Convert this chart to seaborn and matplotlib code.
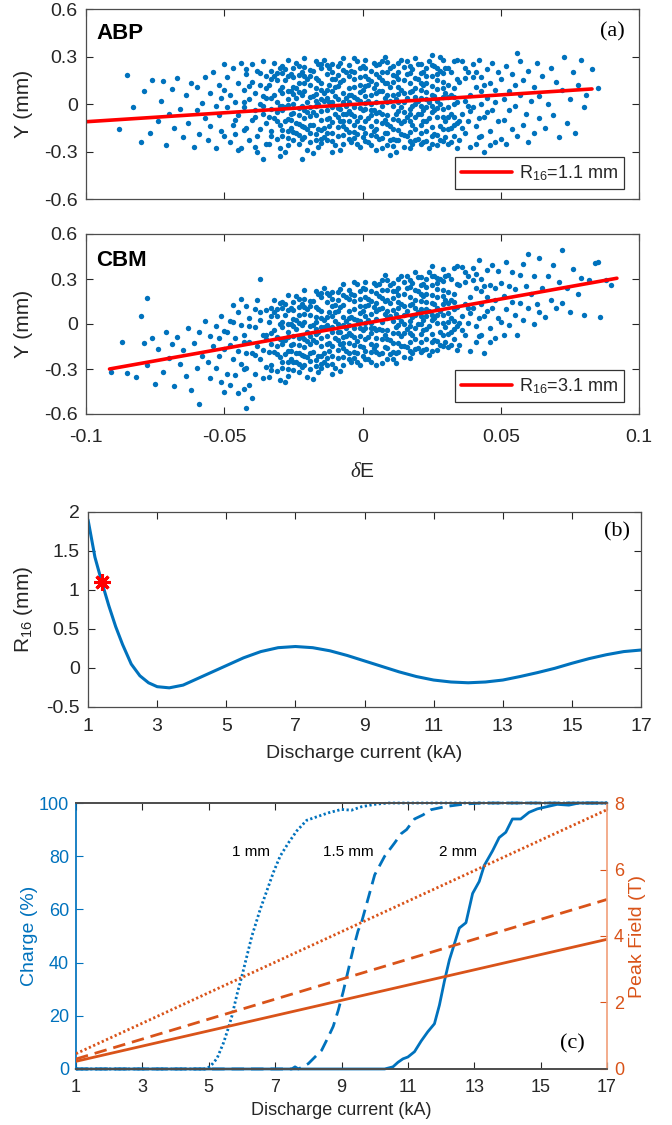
import numpy as np
import pandas as pd
import matplotlib
matplotlib.use("Agg")
import matplotlib.pyplot as plt
import seaborn as sns

sns.set_theme(style="ticks")
plt.rcParams.update({
    "font.family": ["Liberation Sans", "DejaVu Sans"],
    "axes.unicode_minus": False,
    "mathtext.fontset": "custom",
    "mathtext.rm": "Liberation Sans",
    "mathtext.it": "Liberation Serif:italic",
})

BLUE = "#0072BD"
ORANGE = "#D95319"
RED = "#FF0000"
DARK = "#262626"

# ---------------- (a) particle clouds: (dE x 1e3, Y in um) ----------------
abp_points = [
    (-88,-160),(-85,185),(-83,-20),(-80,-240),(-79,80),(-77,-180),(-76,150),(-74,-110),(-73,20),(-72,145),
    (-71,-260),(-70,-60),(-69,95),(-68,-150),(-67,165),(-66,-30),(-65,-210),(-64,60),(-63,-120),(-62,130),
    (-61,-270),(-60,-40),(-60,110),(-59,-190),(-58,5),(-57,170),(-57,-90),(-56,-230),(-55,70),(-55,-140),
    (-54,200),(-53,-10),(-53,-280),(-52,120),(-52,-70),(-51,-170),(-51,40),(-50,250),(-50,-200),(-50,90),
    (50,-220),(50,160),(51,30),(51,-100),(52,240),(52,-250),(53,80),(53,-40),(54,190),(54,-160),
    (55,-10),(55,120),(56,-200),(57,270),(57,60),(58,-130),(58,150),(59,-60),(60,210),(60,-240),
    (61,20),(62,110),(62,-180),(63,260),(64,-90),(64,50),(65,180),(66,-150),(67,0),(68,230),
    (69,-70),(70,140),(71,-210),(72,90),(73,300),(74,-120),(75,30),(76,200),(77,-180),(78,120),
    (79,280),(80,-20),(81,60),(83,220),(85,100),
    (-49,-20),(-49,170),(-48,-240),(-48,60),(-47,-130),(-47,230),(-46,10),(-46,-190),(-45,130),(-45,-70),
    (-44,260),(-44,-280),(-43,-20),(-43,90),(-42,-150),(-42,190),(-41,30),(-41,-230),(-40,140),(-40,-100),
    (-40,250),(-39,-40),(-39,70),(-38,-200),(-38,210),(-38,-300),(-37,0),(-37,120),(-37,-160),(-36,270),
    (-36,-60),(-36,50),(-35,-250),(-35,180),(-35,-120),(-35,100),(-36,-10),(-39,-270),(-42,220),(-46,-100),
    (35,-230),(35,140),(36,-60),(36,270),(37,20),(37,-180),(38,200),(38,-110),(39,60),(39,-270),
    (40,250),(40,-20),(41,-140),(41,110),(42,280),(42,-210),(43,0),(43,170),(44,-80),(44,-300),
    (45,220),(45,40),(46,-170),(46,130),(47,-40),(47,260),(48,-240),(48,90),(49,-110),(49,200),
    (36,-150),(38,-10),(40,170),(42,-90),(44,120),(46,-260),(48,10),(37,230),(41,-250),(45,-50),
    (-34,-250),(-34,120),(-33,-30),(-33,210),(-33,-170),(-32,60),(-32,-90),(-32,260),(-31,-220),(-31,10),
    (-31,150),(-30,-130),(-30,90),(-30,-280),(-34,-80),(-32,180),(-31,-50),(-33,40),(-30,230),(-30,-10),
    (-29,-200),(-29,70),(-29,240),(-28,-110),(-28,150),(-28,-20),(-27,280),(-27,-260),(-27,30),(-26,-150),
    (-26,190),(-26,-60),(-25,110),(-25,-230),(-25,0),(-29,-40),(-28,220),(-27,-170),(-26,80),(-25,170),
    (-28,-300),(-26,-100),
    (-24,-180),(-24,40),(-24,260),(-23,-70),(-23,130),(-23,-250),(-22,200),(-22,-10),(-22,-140),(-21,80),
    (-21,290),(-21,-210),(-20,-50),(-20,160),(-20,-290),(-24,-120),(-23,240),(-22,60),(-21,-90),(-20,10),
    (-24,100),(-22,-220),(-21,180),(-20,-160),
    (-19,-240),(-19,120),(-19,-20),(-18,210),(-18,-130),(-18,50),(-17,-70),(-17,270),(-17,-190),(-16,0),
    (-16,150),(-16,-270),(-15,90),(-15,-100),(-15,230),(-19,180),(-18,-50),(-17,100),(-16,-160),(-15,-220),
    (-18,-310),(-17,20),(-16,250),(-15,30),
    (-14,-150),(-14,70),(-14,280),(-13,-40),(-13,190),(-13,-230),(-12,120),(-12,-90),(-12,10),(-11,250),
    (-11,-180),(-11,-20),(-10,160),(-10,-260),(-10,50),(-14,-210),(-13,90),(-12,-140),(-11,200),(-10,-60),
    (-14,20),(-12,230),(-11,-300),(-10,110),
    (-9,-200),(-9,30),(-9,240),(-8,-110),(-8,140),(-8,-30),(-7,290),(-7,-250),(-7,70),(-6,-160),
    (-6,200),(-6,-60),(-5,100),(-5,-220),(-5,10),(-9,-80),(-8,260),(-7,-140),(-6,40),(-5,180),
    (-8,-290),(-7,150),(-6,-10),(-5,-110),
    (-4,-240),(-4,60),(-4,210),(-3,-130),(-3,110),(-3,-20),(-2,270),(-2,-190),(-2,30),(-1,-80),
    (-1,170),(-1,-270),(0,90),(0,-150),(0,240),(-4,-60),(-3,290),(-2,-110),(-1,20),(0,-40),
    (-3,160),(-2,-250),(-1,120),(0,-210),
    (1,-180),(1,50),(1,280),(2,-90),(2,160),(2,-240),(3,0),(3,210),(3,-140),(4,100),
    (4,-40),(4,260),(5,-200),(5,70),(5,-290),(1,-30),(2,120),(3,-70),(4,-170),(5,190),
    (1,230),(2,20),(3,-260),(5,-110),
    (6,-220),(6,80),(6,250),(7,-120),(7,150),(7,-10),(8,300),(8,-180),(8,40),(9,-70),
    (9,200),(9,-260),(10,110),(10,-140),(10,20),(6,-50),(7,270),(8,-100),(9,60),(10,-230),
    (6,170),(7,-280),(8,130),(10,230),
    (11,-160),(11,60),(11,240),(12,-60),(12,180),(12,-230),(13,110),(13,-100),(13,10),(14,280),
    (14,-190),(14,-20),(15,150),(15,-270),(15,70),(11,-220),(12,30),(13,260),(14,-120),(15,-50),
    (11,140),(12,-300),(13,200),(14,90),
    (16,-200),(16,40),(16,270),(17,-110),(17,130),(17,-30),(18,220),(18,-250),(18,80),(19,-160),
    (19,0),(19,290),(20,-60),(20,160),(20,-220),(16,-80),(17,240),(18,-130),(19,100),(20,20),
    (16,190),(17,-280),(18,-10),(20,250),
    (21,-130),(21,90),(21,250),(22,-40),(22,200),(22,-240),(23,130),(23,-170),(23,30),(24,270),
    (24,-90),(24,-280),(25,60),(25,-200),(25,180),(21,-10),(22,-110),(23,230),(24,10),(25,-50),
    (21,-250),(22,120),(23,-20),(25,310),
    (26,-190),(26,50),(26,240),(27,-80),(27,150),(27,-260),(28,0),(28,210),(28,-140),(29,100),
    (29,-30),(29,280),(30,-210),(30,70),(30,-110),(26,-40),(27,190),(28,-230),(29,-160),(30,230),
    (27,20),(29,140),
    (31,-250),(31,120),(31,-20),(32,200),(32,-150),(32,60),(33,-80),(33,270),(33,-200),(34,10),
    (34,160),(34,-280),(31,230),(32,-60),(33,100),(34,-120),(31,-160),(33,0),(32,-240),(34,280),
    (-36,-345),(-30,-330),(-22,-350),(10,-320),(28,300),(56,325),(-45,-290),
]

abp_core_extra = [
    (-29,-165),(-29,-15),(-29,105),(-29,195),(-27,-215),(-27,-95),(-27,85),(-27,175),(-27,-5),
    (-25,-175),(-25,-55),(-25,65),(-25,225),(-23,-195),(-23,-25),(-23,75),(-23,185),(-23,-125),
    (-21,-145),(-21,-35),(-21,135),(-21,235),(-19,-185),(-19,-75),(-19,45),(-19,215),(-19,-135),
    (-17,-225),(-17,-15),(-17,165),(-17,65),(-15,-165),(-15,-45),(-15,135),(-15,255),(-15,-245),
    (-13,-185),(-13,-95),(-13,35),(-13,245),(-11,-235),(-11,-115),(-11,85),(-11,155),(-11,15),
    (-9,-145),(-9,-25),(-9,115),(-9,185),(-7,-195),(-7,-65),(-7,15),(-7,215),(-7,-105),
    (-5,-175),(-5,-45),(-5,55),(-5,245),(-3,-215),(-3,-75),(-3,45),(-3,205),(-3,-175),
    (-1,-145),(-1,-25),(-1,75),(-1,225),(1,-235),(1,-105),(1,115),(1,175),(1,5),
    (3,-195),(3,-35),(3,55),(3,145),(5,-155),(5,-55),(5,125),(5,245),(5,15),
    (7,-215),(7,-65),(7,85),(7,205),(9,-185),(9,-125),(9,15),(9,135),(9,265),
    (11,-95),(11,-15),(11,185),(11,-265),(13,-225),(13,-45),(13,65),(13,155),(13,-165),
    (15,-195),(15,-105),(15,15),(15,235),(17,-175),(17,-65),(17,75),(17,195),(17,-235),
    (19,-225),(19,-85),(19,45),(19,165),(21,-185),(21,-65),(21,35),(21,195),(21,135),
    (23,-235),(23,-105),(23,75),(23,175),(25,-145),(25,-15),(25,115),(25,245),(25,-255),
    (27,-195),(27,-25),(27,95),(27,225),(29,-235),(29,-85),(29,45),(29,195),
    (-43,-165),(-41,115),(-39,-85),(-37,195),(-35,35),(-33,-205),(-31,-105),(-33,155),(31,-85),(33,45),
    (35,-105),(37,165),(39,-45),(41,205),(43,-205),(33,-135),(31,45),(-31,195),(-43,15),(43,85),
]

cbm_points = [
    (-91,-322),(-87,-120),(-85,-324),(-80,55),(-82,-354),(-79,-125),(-78,-272),(-76,-96),(-75,-403),(-74,-169),
    (-72,-323),(-71,-50),(-70,-227),(-69,-134),(-68,-411),(-67,-88),(-66,-265),(-65,-172),(-64,-348),(-63,-25),
    (-62,-442),(-61,-129),(-60,-296),(-59,-53),(-58,-210),(-59,-530),(-57,23),(-56,-254),(-55,-81),(-55,-361),
    (-54,-147),(-53,-294),(-53,-14),(-52,-211),(-52,-91),(-51,-388),(-51,52),(-50,-165),(-50,-45),(-50,-455),
    (-78,173),
    (50,275),(50,15),(51,188),(51,-72),(52,411),(52,101),(53,254),(53,-6),(54,347),(54,147),
    (55,61),(55,231),(56,-76),(57,327),(57,137),(58,400),(58,30),(59,253),(60,106),(60,466),
    (61,199),(62,2),(62,322),(63,135),(64,438),(64,78),(65,242),(66,45),(67,318),(68,161),
    (69,394),(70,107),(71,280),(72,493),(72,143),(74,239),(75,83),(76,366),(78,202),(79,305),
    (80,58),(82,294),(84,410),(85,414),(86,47),(88,293),(90,259),
    (-49,-52),(-49,-332),(-48,-139),(-48,-409),(-47,14),(-47,-236),(-46,-93),(-46,-343),(-45,80),(-45,-180),
    (-44,-6),(-44,-266),(-43,-433),(-43,-73),(-42,120),(-42,-290),(-41,-117),(-41,43),(-40,-194),(-40,-494),
    (-39,-21),(-39,-331),(-38,162),(-38,-148),(-37,25),(-37,-235),(-36,-362),(-36,-72),(-35,91),(-35,-289),
    (-48,21),(-45,-460),(-42,-190),(-39,99),(-36,-172),(-44,164),(-37,300),(-47,124),(-41,-407),(-42,-560),
    (-35,-99),
    (35,-141),(35,259),(36,52),(36,382),(37,135),(37,-75),(38,318),(38,8),(39,181),(39,-179),
    (40,374),(40,104),(41,-13),(41,237),(42,430),(42,-80),(43,133),(43,303),(44,56),(44,-194),
    (45,360),(45,180),(46,-27),(46,263),(47,106),(47,396),(48,-91),(48,239),(49,42),(49,352),
    (36,-38),(38,108),(40,294),(42,40),(44,256),(46,-117),(48,159),(37,345),(41,-123),(45,90),
    (-34,-355),(-34,15),(-33,-132),(-33,108),(-33,-272),(-32,-39),(-32,-189),(-32,161),(-31,-316),(-31,-86),
    (-31,54),(-30,-223),(-30,-3),(-30,-373),(-34,-185),(-32,81),(-31,-146),(-33,-62),(-30,137),(-30,-103),
    (-29,-290),(-29,-20),(-29,150),(-28,-197),(-28,63),(-28,-107),(-27,196),(-27,-344),(-27,-54),(-26,-231),
    (-26,109),(-26,-141),(-25,32),(-25,-308),(-25,-78),(-29,-130),(-28,133),(-27,-254),(-26,-1),(-25,92),
    (-28,-387),(-26,-181),
    (-24,-254),(-24,-34),(-24,186),(-23,-141),(-23,59),(-23,-321),(-22,132),(-22,-78),(-22,-208),(-21,15),
    (-21,225),(-21,-275),(-20,-112),(-20,98),(-20,-352),(-24,-194),(-23,169),(-22,-8),(-21,-155),(-20,-52),
    (-24,26),(-22,-288),(-21,115),(-20,-222),
    (-19,-299),(-19,61),(-19,-79),(-18,154),(-18,-186),(-18,-6),(-17,-123),(-17,217),(-17,-243),(-16,-50),
    (-16,100),(-16,-320),(-15,43),(-15,-147),(-15,183),(-19,121),(-18,-106),(-17,47),(-16,-210),(-15,-267),
    (-18,-366),(-17,-33),(-16,200),(-15,-17),
    (-14,-193),(-14,27),(-14,237),(-13,-80),(-13,150),(-13,-270),(-12,83),(-12,-127),(-12,-27),(-11,216),
    (-11,-214),(-11,-54),(-10,129),(-10,-291),(-10,19),(-14,-253),(-13,50),(-12,-177),(-11,166),(-10,-91),
    (-14,-23),(-12,193),(-11,-334),(-10,79),
    (-9,-228),(-9,2),(-9,212),(-8,-135),(-8,115),(-8,-55),(-7,268),(-7,-272),(-7,48),(-6,-179),
    (-6,181),(-6,-79),(-5,84),(-5,-236),(-5,-6),(-9,-108),(-8,235),(-7,-162),(-6,21),(-5,164),
    (-8,-315),(-7,128),(-6,-29),(-5,-126),
    (-4,-252),(-4,48),(-4,198),(-3,-139),(-3,101),(-3,-29),(-2,264),(-2,-196),(-2,24),(-1,-83),
    (-1,167),(-1,-273),(0,90),(0,-150),(0,240),(-4,-72),(-3,281),(-2,-116),(-1,17),(0,-40),
    (-3,151),(-2,-256),(-1,117),(0,-210),
    (1,-177),(1,53),(1,283),(2,-84),(2,166),(2,-234),(3,9),(3,219),(3,-131),(4,112),
    (4,-28),(4,272),(5,-184),(5,86),(5,-274),(1,-27),(2,126),(3,-61),(4,-158),(5,206),
    (1,233),(2,26),(3,-251),(5,-94),
    (6,-201),(6,99),(6,269),(7,-98),(7,172),(7,12),(8,325),(8,-155),(8,65),(9,-42),
    (9,228),(9,-232),(10,141),(10,-109),(10,51),(6,-31),(7,292),(8,-75),(9,88),(10,-199),
    (6,189),(7,-258),(8,155),(10,261),
    (11,-126),(11,94),(11,274),(12,-23),(12,217),(12,-193),(13,150),(13,-60),(13,50),(14,323),
    (14,-147),(14,23),(15,197),(15,-223),(15,117),(11,-186),(12,67),(13,300),(14,-77),(15,-3),
    (11,174),(12,-263),(13,240),(14,133),
    (16,-150),(16,90),(16,320),(17,-57),(17,183),(17,23),(18,276),(18,-194),(18,136),(19,-101),
    (19,59),(19,349),(20,2),(20,222),(20,-158),(16,-30),(17,293),(18,-74),(19,159),(20,82),
    (16,240),(17,-227),(18,46),(20,312),
    (21,-65),(21,155),(21,315),(22,28),(22,268),(22,-172),(23,201),(23,-99),(23,101),(24,344),
    (24,-16),(24,-206),(25,138),(25,-122),(25,258),(21,55),(22,-42),(23,301),(24,84),(25,28),
    (21,-185),(22,188),(23,51),(25,388),
    (26,-109),(26,131),(26,321),(27,4),(27,234),(27,-176),(28,87),(28,297),(28,-53),(29,190),
    (29,60),(29,370),(30,-117),(30,163),(30,-17),(26,41),(27,274),(28,-143),(29,-70),(30,323),
    (27,104),(29,230),
    (31,-154),(31,216),(31,76),(32,299),(32,-51),(32,159),(33,22),(33,372),(33,-98),(34,115),
    (34,265),(34,-175),(31,326),(32,39),(33,202),(34,-15),(31,-64),(33,102),(32,-141),(34,385),
]

cbm_core_extra = [
    (-29,-255),(-29,-105),(-29,15),(-29,105),(-27,-299),(-27,-179),(-27,1),(-27,91),(-27,-89),
    (-25,-253),(-25,-133),(-25,-13),(-25,147),(-23,-266),(-23,-96),(-23,4),(-23,114),(-23,-196),
    (-21,-210),(-21,-100),(-21,70),(-21,170),(-19,-244),(-19,-134),(-19,-14),(-19,156),(-19,-194),
    (-17,-278),(-17,-68),(-17,112),(-17,12),(-15,-212),(-15,-92),(-15,88),(-15,208),(-15,-292),
    (-13,-225),(-13,-135),(-13,-5),(-13,205),(-11,-269),(-11,-149),(-11,51),(-11,121),(-11,-19),
    (-9,-173),(-9,-53),(-9,87),(-9,157),(-7,-217),(-7,-87),(-7,-7),(-7,193),(-7,-127),
    (-5,-191),(-5,-61),(-5,39),(-5,229),(-3,-224),(-3,-84),(-3,36),(-3,196),(-3,-184),
    (-1,-148),(-1,-28),(-1,72),(-1,222),(1,-232),(1,-102),(1,118),(1,178),(1,8),
    (3,-186),(3,-26),(3,64),(3,154),(5,-139),(5,-39),(5,141),(5,261),(5,31),
    (7,-193),(7,-43),(7,107),(7,227),(9,-157),(9,-97),(9,43),(9,163),(9,293),
    (11,-61),(11,19),(11,219),(11,-231),(13,-185),(13,-5),(13,105),(13,195),(13,-125),
    (15,-148),(15,-58),(15,62),(15,282),(17,-122),(17,-12),(17,128),(17,248),(17,-182),
    (19,-166),(19,-26),(19,104),(19,224),(21,-120),(21,0),(21,100),(21,260),(21,200),
    (23,-164),(23,-34),(23,146),(23,246),(25,-67),(25,63),(25,193),(25,323),(25,-177),
    (27,-111),(27,59),(27,179),(27,309),(29,-145),(29,5),(29,135),(29,285),
    (-43,-298),(-41,-12),(-39,-206),(-37,80),(-35,-74),(-33,-307),(-31,-201),(-33,53),(31,11),(33,147),
    (35,4),(37,280),(39,76),(41,332),(43,-72),(33,-33),(31,141),(-31,99),(-43,-118),(43,218),
]

# linear fits (R16 slope)
abp_fit_dE = [-0.1, 0.083]
abp_fit_Y = [-0.112, 0.095]
cbm_fit_dE = [-0.0915, 0.092]
cbm_fit_Y = [-0.30, 0.305]
dE_ticks = [-0.1, -0.05, 0, 0.05, 0.1]
dE_ticklabels = ["-0.1", "-0.05", "0", "0.05", "0.1"]
Y_ticks = [-0.6, -0.3, 0, 0.3, 0.6]
Y_ticklabels = ["-0.6", "-0.3", "0", "0.3", "0.6"]

# ---------------- (b) R16 vs discharge current ----------------
b_current = [1.0, 1.2, 1.4, 1.6, 1.8, 2.0, 2.25, 2.5, 2.75, 3.0, 3.35, 3.75, 4.0, 4.5, 5.0, 5.5, 6.0,
             6.5, 7.0, 7.5, 8.0, 8.5, 9.0, 9.5, 10.0, 10.5, 11.0, 11.5, 12.0, 12.5, 13.0, 13.5,
             14.0, 14.5, 15.0, 15.5, 16.0, 16.5, 17.0]
b_r16 = [1.90, 1.42, 1.10, 0.80, 0.53, 0.30, 0.05, -0.10, -0.19, -0.24, -0.255, -0.22, -0.17, -0.07,
         0.03, 0.13, 0.21, 0.26, 0.275, 0.26, 0.22, 0.16, 0.09, 0.02, -0.05, -0.11, -0.155, -0.18,
         -0.19, -0.18, -0.155, -0.11, -0.06, -0.005, 0.06, 0.12, 0.17, 0.21, 0.23]
star_current = [1.4]
star_r16 = [1.1]
kA_ticks = [1, 3, 5, 7, 9, 11, 13, 15, 17]

# ---------------- (c) transmitted charge and peak field ----------------
c1_current = [1, 4.9, 5.05, 5.25, 5.45, 5.58, 5.7, 5.85, 6.0, 6.1, 6.3, 6.55, 6.75, 6.95, 7.15, 7.4,
              7.65, 7.95, 8.25, 8.6, 9.0, 9.3, 9.6, 10.0, 10.4, 17]
c1_charge = [0, 0, 1, 4, 10, 15, 20, 28, 35, 40, 50, 60, 67, 74, 80, 85, 89.5, 93.5, 94.8, 96.3,
             97.6, 97.3, 98.6, 99.5, 100, 100]
c15_current = [1, 7.5, 7.6, 7.7, 7.85, 8.0, 8.2, 8.4, 8.6, 8.75, 8.9, 9.05, 9.2, 9.35, 9.5, 9.6,
               9.8, 10.0, 10.3, 10.6, 10.8, 10.96, 11.2, 11.45, 11.7, 12.15, 12.7, 13.2, 17]
c15_charge = [0, 0, 0.8, 0, 1, 2, 4.5, 7, 12, 16, 22, 29, 37, 45, 52, 55, 64, 73, 80, 85, 88.5, 90,
              94, 95.5, 97.5, 98.7, 99.6, 100, 100]
c2_current = [1, 10.3, 10.55, 10.7, 10.85, 11.0, 11.2, 11.4, 11.6, 11.8, 11.95, 12.1, 12.25, 12.4,
              12.55, 12.75, 12.95, 13.15, 13.3, 13.55, 13.75, 13.95, 14.15, 14.4, 14.65, 14.9, 15.25,
              15.5, 15.85, 16.15, 17]
c2_charge = [0, 0, 0.8, 2.5, 3.8, 4.5, 6.5, 10.5, 14, 17, 24, 33, 41, 47, 53, 55, 66, 70.5, 76.5,
             82, 87, 89, 94, 94, 96.5, 97.8, 98.8, 99.5, 99.2, 100, 100]
field_current = [1, 17]
field_2mm = [0.23, 3.9]
field_15mm = [0.30, 5.1]
field_1mm = [0.46, 7.8]
charge_ticks = [0, 20, 40, 60, 80, 100]
field_ticks = [0, 2, 4, 6, 8]

fig = plt.figure(figsize=(6.72, 11.25), dpi=100)


def box(ax, size=14):
    ax.tick_params(direction="in", top=True, right=True, length=5, width=0.8,
                   colors=DARK, labelsize=size, pad=6)
    for sp in ax.spines.values():
        sp.set_color("#4d4d4d"); sp.set_linewidth(0.9)


# ---- panel a ----
axa1 = fig.add_axes([0.1280, 0.8231, 0.8229, 0.1689])
axa2 = fig.add_axes([0.1280, 0.6320, 0.8229, 0.1600])
for ax, pts, extra, fx, fy, tag, lab, legy in [
        (axa1, abp_points, abp_core_extra, abp_fit_dE, abp_fit_Y, "ABP", "R$_{\\mathrm{16}}$=1.1 mm", 0.053),
        (axa2, cbm_points, cbm_core_extra, cbm_fit_dE, cbm_fit_Y, "CBM", "R$_{\\mathrm{16}}$=3.1 mm", 0.067)]:
    df = pd.DataFrame(pts + extra, columns=["dE", "Y"]) / 1000.0
    sns.scatterplot(data=df, x="dE", y="Y", ax=ax, s=15, color=BLUE, linewidth=0, legend=False)
    sns.lineplot(x=fx, y=fy, ax=ax, color=RED, lw=2.6, label=lab)
    ax.set_xlim(-0.1, 0.1); ax.set_ylim(-0.6, 0.6)
    ax.set_xticks(dE_ticks); ax.set_yticks(Y_ticks); ax.set_yticklabels(Y_ticklabels)
    box(ax)
    ax.set_ylabel("Y (mm)", fontsize=15, color=DARK)
    ax.yaxis.set_label_coords(-0.096, 0.5)
    ax.text(0.018, 0.87 if tag == "ABP" else 0.855, tag, transform=ax.transAxes, fontsize=16,
            fontweight="bold", ha="left", va="center", color="black")
    leg = ax.legend(loc="lower right", bbox_to_anchor=(0.973, legy), borderaxespad=0,
                    fontsize=13, frameon=True, fancybox=False, framealpha=1, edgecolor="#333333",
                    handlelength=2.8, borderpad=0.35, handletextpad=0.4)
    leg.get_frame().set_linewidth(0.9)
axa1.set_xticklabels([]); axa1.set_xlabel("")
axa2.set_xticklabels(dE_ticklabels)
axa2.tick_params(axis="x", pad=11)
axa2.set_xlabel("$\\delta$E", fontsize=15, color=DARK)
axa2.xaxis.set_label_coords(0.5, -0.267)
axa1.text(0.975, 0.88, "(a)", transform=axa1.transAxes, fontsize=16, ha="right", va="center",
          family="Liberation Serif", color="black")

# ---- panel b ----
axb = fig.add_axes([0.1310, 0.3716, 0.8229, 0.1733])
sns.lineplot(x=b_current, y=b_r16, ax=axb, color=BLUE, lw=2.2)
axb.plot(star_current, star_r16, linestyle="none", marker=(8, 2, 0), ms=12, mew=2.2, color=RED)
axb.set_xlim(1, 17); axb.set_ylim(-0.5, 2)
axb.set_xticks(kA_ticks); axb.set_yticks([-0.5, 0, 0.5, 1, 1.5, 2])
axb.set_yticklabels(["-0.5", "0", "0.5", "1", "1.5", "2"])
box(axb)
axb.tick_params(axis="x", pad=8)
axb.set_ylabel("R$_{\\mathrm{16}}$ (mm)", fontsize=15, color=DARK)
axb.yaxis.set_label_coords(-0.096, 0.5)
axb.set_xlabel("Discharge current (kA)", fontsize=14, color=DARK)
axb.xaxis.set_label_coords(0.5, -0.195)
axb.text(16.3, 1.75, "(b)", fontsize=16, ha="center", va="center", family="Liberation Serif",
         color="black")

# ---- panel c ----
axc = fig.add_axes([0.1131, 0.0498, 0.7902, 0.2364])
ax2 = axc.twinx()
for cx, cy, ls in [(c1_current, c1_charge, (0, (0.8, 0.9))),
                   (c15_current, c15_charge, (0, (4.5, 2.5))),
                   (c2_current, c2_charge, "-")]:
    sns.lineplot(x=cx, y=cy, ax=axc, color=BLUE, lw=2.0, linestyle=ls, estimator=None, sort=False,
                 clip_on=False)
for fy, ls in [(field_2mm, "-"), (field_15mm, (0, (4.5, 2.5))), (field_1mm, (0, (0.8, 0.9)))]:
    sns.lineplot(x=field_current, y=fy, ax=ax2, color=ORANGE, lw=2.0, linestyle=ls)
axc.set_xlim(1, 17); axc.set_ylim(0, 100)
ax2.set_ylim(0, 8)
axc.set_xticks(kA_ticks); axc.set_yticks(charge_ticks); ax2.set_yticks(field_ticks)
axc.tick_params(axis="x", direction="in", top=True, bottom=True, length=5, width=0.8, colors=DARK,
                labelsize=13, pad=7)
axc.tick_params(axis="y", direction="in", left=True, right=False, length=5, width=0.8, colors=BLUE,
                labelsize=13, pad=5)
ax2.tick_params(axis="y", direction="in", right=True, length=5, width=0.8, colors=ORANGE,
                labelsize=13, pad=5)
axc.spines["left"].set_color(BLUE); axc.spines["right"].set_visible(False)
for sp in ["top", "bottom"]:
    axc.spines[sp].set_color("#4d4d4d"); ax2.spines[sp].set_color("#4d4d4d")
ax2.spines["left"].set_visible(False)
ax2.spines["right"].set_color("#F2A27E")
axc.set_ylabel("Charge (%)", fontsize=14, color=BLUE)
axc.yaxis.set_label_coords(-0.072, 0.5)
ax2.set_ylabel("Peak Field (T)", fontsize=14, color=ORANGE)
ax2.yaxis.set_label_coords(1.041, 0.5)
axc.set_xlabel("Discharge current (kA)", fontsize=13, color=DARK)
axc.xaxis.set_label_coords(0.5, -0.124)
for tx, lab in [(6.27, "1 mm"), (9.2, "1.5 mm"), (12.5, "2 mm")]:
    axc.text(tx, 81.5, lab, fontsize=11, ha="center", va="center", color="black")
axc.text(15.95, 9.5, "(c)", fontsize=16, ha="center", va="center", family="Liberation Serif",
         color="black")

fig.savefig("out.png", dpi=100)
